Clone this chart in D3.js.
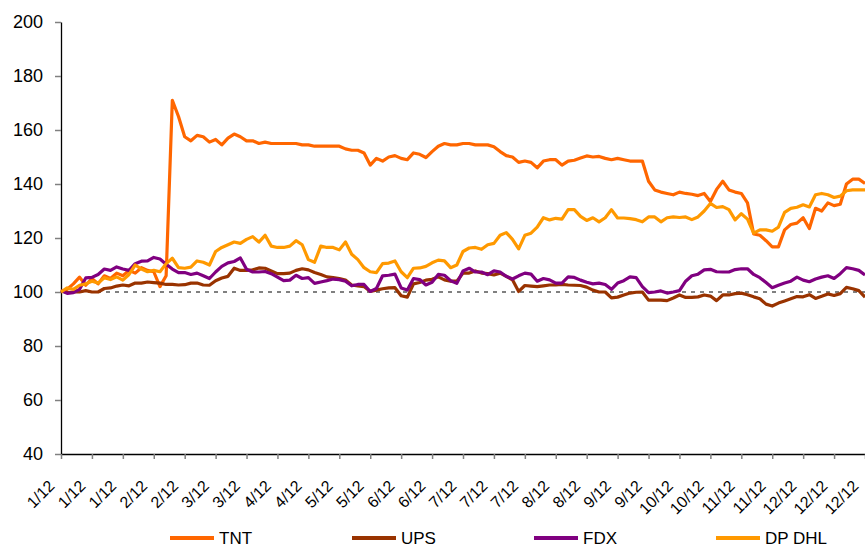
<!DOCTYPE html>
<html>
<head>
<meta charset="utf-8">
<script src="https://cdn.jsdelivr.net/npm/d3@7"></script>
<style>
  body { margin: 0; background: #fff; }
  svg { display: block; }
  text { font-family: "Liberation Sans", Arial, sans-serif; fill: #000; }
</style>
</head>
<body>
<svg width="865" height="548"></svg>
<script>
// series names + colours (legend order = draw order)
const names = ["TNT", "UPS", "FDX", "DP DHL"];
const colors = ["#ff6600", "#993300", "#800080", "#ff9900"];

// x axis: one label every 10 trading days
const xLabels = ["1/12","1/12","1/12","2/12","2/12","3/12","3/12","4/12","4/12","5/12","5/12","6/12","6/12",
  "7/12","7/12","7/12","8/12","8/12","9/12","9/12","10/12","10/12","11/12","11/12","12/12","12/12","12/12"];
const yTicks = [40, 60, 80, 100, 120, 140, 160, 180, 200];

// indexed closes, one value every 2 trading days (2012)
const tnt = [100,101,103,105.5,102.5,105,103,106,105,107,
  106,108,107,109,108,107.5,102,106,171,165,
  157.5,156,158,157.5,155.5,156.5,154.5,157,158.5,157.5,
  156,156,155,155.5,155,155,155,155,155,154.5,
  154.5,154,154,154,154,154,153,152.5,152.5,151.5,
  147,149.5,148.5,150,150.5,149.5,149,151.5,151,149.8,
  152,154,155,154.5,154.5,155,155,154.5,154.5,154.5,
  153.8,152,150.5,150,148,148.5,148,146,148.5,149,
  149,147,148.5,148.8,149.6,150.4,150,150.2,149.5,149,
  149.5,149,148.5,148.5,148.5,141,137.8,137,136.5,136,
  137,136.5,136.2,135.7,136.5,133.5,138,141,137.8,137,
  136.5,133,121.5,121,119,116.7,116.7,123,125,125.5,
  127.5,123.5,131,130,133,132,132.5,140,141.8,141.8,
  140.2];
const ups = [100.5,99.8,100,100,100.5,100,100,101.3,101.5,102.2,
  102.6,102.3,103.3,103.3,103.7,103.5,103.3,102.8,102.8,102.6,
  102.7,103.3,103.3,102.6,102.5,104.2,105.2,105.8,108.8,108,
  108,108.2,108.9,108.8,107.8,106.8,106.8,107,108,108.6,
  108.2,107.2,106.5,105.6,105.3,105,104.4,102.6,102.3,102,
  100.2,100.7,101.2,101.5,101.6,98.6,98.1,103,103.5,104.4,
  104.7,105.6,104.5,104,104,107,107,107.8,107,106.8,
  106.3,107,105.8,104.5,100.2,102.4,102.2,102,102.3,102.6,
  102.6,102.8,102.6,102.5,102.4,101.8,100.7,100,100,97.8,
  98.1,98.9,99.6,99.9,100,97,97,97,96.8,97.8,
  98.9,98,98,98.2,98.9,98.5,96.8,98.9,98.9,99.4,
  99.6,99,98.2,97.5,95.5,94.8,95.9,96.7,97.5,98.3,
  98.2,99,97.6,98.4,99.3,98.7,99.4,101.7,101.2,100.5,
  98.1];
const fdx = [100.5,99.5,99.8,101,105.2,105.4,106.5,108.5,108,109.3,
  108.5,108,110.5,111.4,111.5,112.8,112.2,110.3,108.5,107.2,
  107.2,106.5,107,106,105,107.4,109.5,110.8,111.3,112.6,
  108.4,107.4,107.4,107.6,106.8,105.5,104.2,104.4,106.2,105,
  105.3,103.2,103.7,104.2,104.8,104.6,104,102.3,102.8,102.8,
  100.2,101.3,106,106.2,106.6,101.5,100.7,105,104.6,102.6,
  103.6,106.5,106.2,104.2,103.2,107.8,108.8,107.4,107.4,106.4,
  107.8,107.4,105.8,104.8,106,107,106.6,104,105,104.5,
  103.3,103.3,105.6,105.4,104.4,103.6,103,103.3,102.8,101,
  103.3,104.2,105.6,105.3,102,99.8,100,100.4,99.6,100,
  100.5,104,106,106.6,108.2,108.4,107.5,107.4,107.4,108.3,
  108.6,108.6,106.5,105.3,103.5,101.6,102.5,103.3,104,105.5,
  104.4,103.8,104.8,105.5,106,105,106.8,109,108.6,108,
  106.3];
const dhl = [100,101.5,101,102.5,103,104,103.3,105.3,104.6,105.6,
  104.4,106.5,110,108.5,107.5,108,107.5,110.5,112.5,109,
  108.8,109.2,111.5,111,110,115,116.5,117.5,118.5,118,
  119.5,120.5,118.5,121,117,116.5,116.5,117,119,117.5,
  112,111,117,116.5,116.5,115.6,118.5,114,112,109,
  107.5,107.2,110.5,110.7,111.5,107.5,105.3,108.8,108.9,109.5,
  110.8,111.8,111.5,109,110,115,116.3,116.5,115.8,117.5,
  118,121,122,119.5,116,121,121.8,124,127.5,126.7,
  127.3,127,130.5,130.5,128,126.5,127.5,126,127.5,130.5,
  127.4,127.4,127.2,126.8,126,127.8,127.8,126,127.5,127.8,
  127.6,127.8,126.8,127.8,130,132.8,131.3,131.6,130.5,126.7,
  129,127,121.8,123,123,122.5,124,129.5,131,131.4,
  132.3,131.5,136,136.5,136,135,135.5,137.5,137.8,137.8,
  137.8];

const series = [tnt, ups, fdx, dhl];

const svg = d3.select("svg");
const plotLeft = 61, plotRight = 865, plotTop = 22, plotBottom = 454;

const x = d3.scaleLinear().domain([0, 260]).range([plotLeft, plotRight]);
const y = d3.scaleLinear().domain([40, 200]).range([plotBottom, plotTop]);

// y axis
const gy = svg.append("g")
  .attr("transform", "translate(" + plotLeft + ",0)")
  .call(d3.axisLeft(y).tickValues(yTicks).tickSize(6).tickSizeOuter(0).tickPadding(12));
gy.select(".domain").attr("stroke", "#000").attr("stroke-width", 1.3);
gy.selectAll(".tick line").attr("stroke", "#808080").attr("stroke-width", 1.5);
gy.selectAll(".tick text").attr("font-size", "18px").attr("font-family", null);

// x axis
const gx = svg.append("g")
  .attr("transform", "translate(0," + plotBottom + ")")
  .call(d3.axisBottom(x).tickValues(d3.range(0, 261, 10)).tickSize(5).tickSizeOuter(0)
    .tickFormat((d, i) => xLabels[i]));
gx.select(".domain").attr("stroke", "#000").attr("stroke-width", 1.3);
gx.selectAll(".tick line").attr("stroke", "#808080").attr("stroke-width", 1.5);
gx.selectAll(".tick text")
  .attr("font-size", "16px").attr("font-family", null)
  .attr("x", 0).attr("y", 0).attr("dy", null)
  .attr("text-anchor", "end")
  .attr("transform", "translate(-6,33) rotate(-45)");

// 100 reference line
svg.append("line")
  .attr("x1", x(0)).attr("x2", x(260))
  .attr("y1", y(100)).attr("y2", y(100))
  .attr("stroke", "#808080").attr("stroke-width", 2)
  .attr("stroke-dasharray", "4,5");

const line = d3.line()
  .x((d, i) => x(i * 2))
  .y(d => y(d));

series.forEach((s, i) => {
  svg.append("path")
    .datum(s)
    .attr("fill", "none")
    .attr("stroke", colors[i])
    .attr("stroke-width", 3.2)
    .attr("stroke-linejoin", "round")
    .attr("d", line);
});

// legend
const lg = svg.append("g");
names.forEach((n, i) => {
  const lx = 170 + i * 182;
  lg.append("line")
    .attr("x1", lx).attr("x2", lx + 44)
    .attr("y1", 538).attr("y2", 538)
    .attr("stroke", colors[i]).attr("stroke-width", 4);
  lg.append("text")
    .attr("x", lx + 49).attr("y", 544)
    .attr("font-size", "17px")
    .text(n);
});
</script>
</body>
</html>
